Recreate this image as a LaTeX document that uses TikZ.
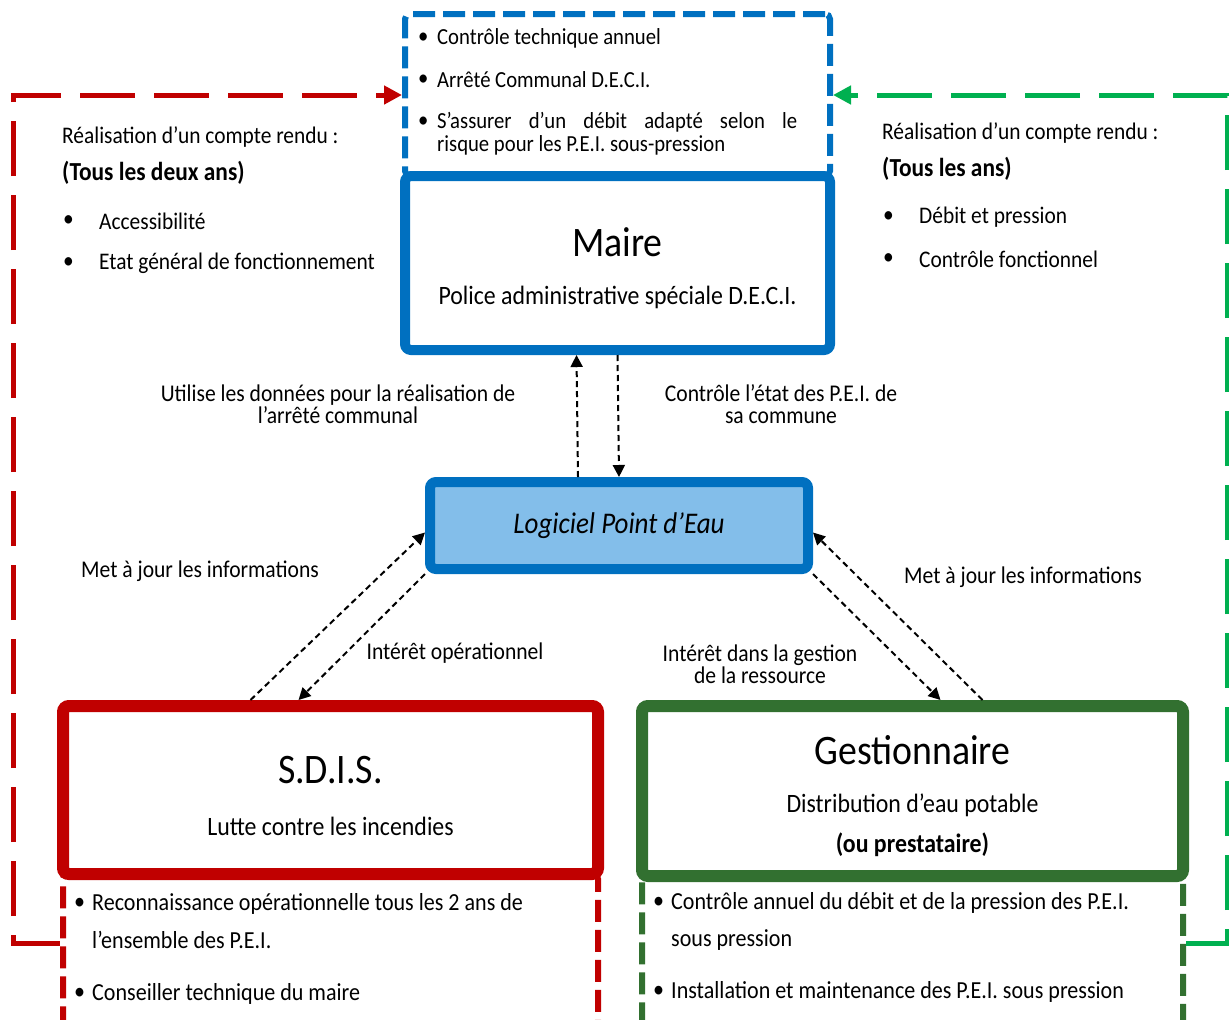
\documentclass[tikz,border=0pt]{standalone}
\usepackage{fontspec}
\setmainfont[FakeStretch=0.9]{Carlito}
\usetikzlibrary{arrows.meta}
\definecolor{mblue}{RGB}{0,112,192}
\definecolor{lblue}{RGB}{131,190,234}
\definecolor{sred}{RGB}{192,0,0}
\definecolor{gdark}{RGB}{50,112,48}
\definecolor{glight}{RGB}{0,176,80}

\begin{document}
\begin{tikzpicture}[x=1pt,y=-1pt,
  bbox/.style={draw,line width=10pt,rounded corners=6pt,fill=white,inner sep=0pt},
  dbox/.style={draw,line width=6pt,dash pattern=on 22pt off 8pt,rounded corners=5pt,inner sep=0pt},
  link/.style={line width=2pt,dash pattern=on 6pt off 4pt,-{Triangle[length=12pt,width=12pt]}},
  long/.style={line width=5pt,dash pattern=on 55pt off 19pt,-{Triangle[length=18pt,width=18pt]}},
  lbl/.style={font=\fontsize{24}{22}\selectfont,align=center,inner sep=0pt},
  txt/.style={font=\fontsize{23.8}{24}\selectfont,anchor=west,inner sep=0pt},
  itm/.style={font=\fontsize{23}{24}\selectfont,anchor=west,inner sep=0pt},
  mis/.style={font=\fontsize{24.5}{24}\selectfont,anchor=west,inner sep=0pt},
  ttl/.style={font=\fontsize{42}{44}\selectfont,inner sep=0pt},
  sub/.style={font=\fontsize{26.5}{28}\selectfont,inner sep=0pt}]

  \clip (0,0) rectangle (1229,1020);

  % cadres en pointilles
  \node[dbox,draw=mblue,minimum width=425pt,minimum height=162pt] (deci) at (617.5,95) {};
  \node[dbox,draw=sred,minimum width=535pt,minimum height=200pt] (sdisx) at (330.5,974) {};
  \node[dbox,draw=gdark,minimum width=541pt,minimum height=200pt] (gestx) at (912.5,976) {};

  % blocs principaux
  \node[bbox,draw=mblue,minimum width=425pt,minimum height=174pt] (maire) at (617.5,263) {};
  \node[bbox,draw=mblue,fill=lblue,minimum width=378pt,minimum height=87pt,
        font=\fontsize{30}{32}\selectfont\itshape] (pe) at (619,525.5) {Logiciel Point d’Eau};
  \node[bbox,draw=sred,line width=12pt,minimum width=535pt,minimum height=168pt] (sdis) at (330.5,790) {};
  \node[bbox,draw=gdark,line width=12pt,minimum width=541pt,minimum height=170pt] (gest) at (912.5,791) {};

  \node[ttl] (mt) at (617.5,242) {Maire};
  \node[sub] (ms) at (617.5,297) {Police administrative spéciale D.E.C.I.};
  \node[ttl] (st) at (330.5,770) {S.D.I.S.};
  \node[sub] (ss) at (330.5,826) {Lutte contre les incendies};
  \node[ttl] (gt) at (912.5,750) {Gestionnaire};
  \node[sub] (gs1) at (912.5,805) {Distribution d’eau potable};
  \node[sub] (gs2) at (912.5,845) {\bfseries (ou prestataire)};

  % contenu du cadre D.E.C.I.
  \node[itm] (d1b) at (418,38) {\textbullet};
  \node[itm] (d1) at (437,38) {Contrôle technique annuel};
  \node[itm] (d2b) at (418,80) {\textbullet};
  \node[itm] (d2) at (437,80) {Arrêté Communal D.E.C.I.};
  \node[itm] (d3b) at (418,122) {\textbullet};
  \node[itm] (d3) at (437,122) {\makebox[360pt][s]{S’assurer d’un débit adapté selon le}};
  \node[itm] (d4) at (437,145) {risque pour les P.E.I. sous-pression};

  % comptes rendus
  \node[txt] (lh) at (62,137) {Réalisation d’un compte rendu :};
  \node[txt,font=\fontsize{26}{26}\selectfont\bfseries] (lb) at (62,173) {(Tous les deux ans)};
  \node[txt] (la1b) at (63,221) {\textbullet};
  \node[txt] (la1) at (99,221) {Accessibilité};
  \node[txt] (la2b) at (63,263) {\textbullet};
  \node[txt] (la2) at (99,263) {Etat général de fonctionnement};

  \node[txt] (rh) at (882,133) {Réalisation d’un compte rendu :};
  \node[txt,font=\fontsize{26}{26}\selectfont\bfseries] (rb) at (882,169) {(Tous les ans)};
  \node[txt] (ra1b) at (883,217) {\textbullet};
  \node[txt] (ra1) at (919,217) {Débit et pression};
  \node[txt] (ra2b) at (883,259) {\textbullet};
  \node[txt] (ra2) at (919,259) {Contrôle fonctionnel};

  % missions
  \node[mis] (s1b) at (74,904) {\textbullet};
  \node[mis] (s1) at (92,904) {Reconnaissance opérationnelle tous les 2 ans de};
  \node[mis] (s2) at (92,940) {l’ensemble des P.E.I.};
  \node[mis] (s3b) at (74,994) {\textbullet};
  \node[mis] (s3) at (92,994) {Conseiller technique du maire};

  \node[mis] (g1b) at (653,903) {\textbullet};
  \node[mis] (g1) at (671,903) {Contrôle annuel du débit et de la pression des P.E.I.};
  \node[mis] (g2) at (671,940) {sous pression};
  \node[mis] (g3b) at (653,992) {\textbullet};
  \node[mis] (g3) at (671,992) {Installation et maintenance des P.E.I. sous pression};

  % libelles des fleches
  \node[lbl] (u1) at (338,404) {Utilise les données pour la réalisation de\\l’arrêté communal};
  \node[lbl] (c1) at (781,404) {Contrôle l’état des P.E.I. de\\sa commune};
  \node[lbl] (m1) at (200,571) {Met à jour les informations};
  \node[lbl] (i1) at (455,653) {Intérêt opérationnel};
  \node[lbl] (i2) at (760,664) {Intérêt dans la gestion\\de la ressource};
  \node[lbl] (m2) at (1023,577) {Met à jour les informations};

  % fleches
  \draw[link] ([xshift=-41pt]pe.north) -- ([xshift=-41pt]maire.south);
  \draw[link] (maire.south) -- (pe.north);
  \draw[link] ([xshift=-80pt]sdis.north) -- ([yshift=-7pt]pe.west);
  \draw[link] (pe.south west) -- ([xshift=-32pt]sdis.north);
  \draw[link] (pe.south east) -- ([xshift=28pt]gest.north);
  \draw[link] ([xshift=70pt]gest.north) -- ([yshift=-7pt]pe.east);

  \coordinate (rs) at (13,943);
  \coordinate (gs) at (1227,943);
  \draw[long,draw=sred] (rs -| sdisx.west) -- (rs) |- (deci.west);
  \draw[long,draw=glight] (gs -| gestx.east) -- (gs) |- (deci.east);
\end{tikzpicture}
\end{document}
